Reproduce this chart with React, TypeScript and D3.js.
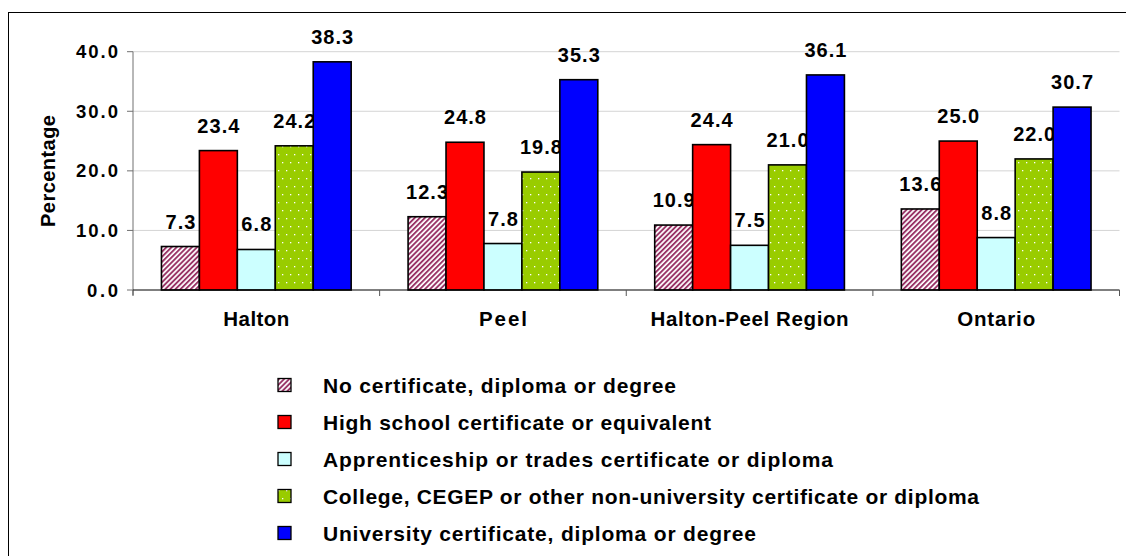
import React from "react";
import * as d3 from "d3";

const categories = ["Halton", "Peel", "Halton-Peel Region", "Ontario"];
const seriesNames = [
  "No certificate, diploma or degree",
  "High school certificate or equivalent",
  "Apprenticeship or trades certificate or diploma",
  "College, CEGEP or other non-university certificate or diploma",
  "University certificate, diploma or degree",
];
const noCertificate = [7.3, 12.3, 10.9, 13.6];
const highSchool = [23.4, 24.8, 24.4, 25.0];
const apprenticeship = [6.8, 7.8, 7.5, 8.8];
const college = [24.2, 19.8, 21.0, 22.0];
const university = [38.3, 35.3, 36.1, 30.7];
const yTicks = [0, 10, 20, 30, 40];

const seriesValues = [noCertificate, highSchool, apprenticeship, college, university];
const fills = ["url(#hatch)", "#FF0000", "#CCFFFF", "url(#dots)", "#0000FF"];
const legendWidths = [353, 388, 510, 656, 433];
const catLabelWidths = [66, 48, 198, 78];

const FONT = "'Liberation Sans', Arial, sans-serif";

export default function App() {
  const left = 133;
  const right = 1119.5;
  const y = d3.scaleLinear().domain([0, 40]).range([290, 51.7]);
  const x0 = d3.scaleBand<string>().domain(categories).range([left, right]).padding(0);
  const bw = x0.bandwidth();
  const barW = bw / 6.5;
  const gap = bw - barW * 5;
  const x1 = d3
    .scaleBand<number>()
    .domain(d3.range(5))
    .range([gap / 2, bw - gap / 2])
    .padding(0);

  const legendY = [385, 422, 459, 496, 533];
  const fmt = d3.format(".1f");

  return (
    <svg
      width={1126}
      height={556}
      style={{ position: "absolute", left: 0, top: 0, background: "#fff" }}
      fontFamily={FONT}
      fontWeight="bold"
    >
      <defs>
        <pattern id="hatch" width={3.6} height={3.6} patternUnits="userSpaceOnUse" patternTransform="rotate(45)">
          <rect width={3.6} height={3.6} fill="#ffffff" />
          <rect width={1.9} height={3.6} fill="#993366" />
        </pattern>
        <pattern id="dots" width={8} height={16} patternUnits="userSpaceOnUse">
          <rect width={8} height={16} fill="#99CC00" />
          <rect x={2} y={2} width={1.3} height={1.3} fill="#ffffff" />
          <rect x={6} y={10} width={1.3} height={1.3} fill="#ffffff" />
        </pattern>
      </defs>
      <rect x={0} y={0} width={1126} height={556} fill="#fff" />
      {/* outer frame */}
      <rect x={8.5} y={12.5} width={1300} height={700} fill="none" stroke="#000" strokeWidth={1} />

      {/* gridlines */}
      {yTicks
        .filter((t) => t > 0)
        .map((t) => (
          <line key={"g" + t} x1={left} x2={right} y1={y(t)} y2={y(t)} stroke="#d4d4d4" strokeWidth={1} />
        ))}

      {/* y axis */}
      <line x1={left} x2={left} y1={y(40)} y2={y(0) + 5} stroke="#707070" strokeWidth={1} />
      {yTicks.map((t) => {
        const s = fmt(t);
        return (
          <g key={"t" + t}>
            <line x1={left - 6} x2={left} y1={y(t)} y2={y(t)} stroke="#707070" strokeWidth={1} />
            <text
              x={118}
              y={y(t) + 6.5}
              textAnchor="end"
              fontSize={18.5}
              fill="#000"
              textLength={s.length === 3 ? 31 : 42}
              lengthAdjust="spacing"
            >
              {s}
            </text>
          </g>
        );
      })}

      {/* bars and labels, per series */}
      {seriesValues.map((vals, si) => (
        <g key={"s" + si}>
          {vals.map((v, ci) => {
            const bx = (x0(categories[ci]) as number) + (x1(si) as number);
            return (
              <rect
                key={"b" + ci}
                x={bx}
                y={y(v)}
                width={x1.bandwidth()}
                height={y(0) - y(v)}
                fill={fills[si]}
                stroke="#000"
                strokeWidth={1.6}
              />
            );
          })}
          {vals.map((v, ci) => {
            const cx = (x0(categories[ci]) as number) + (x1(si) as number) + x1.bandwidth() / 2;
            const s = fmt(v);
            return (
              <text
                key={"l" + ci}
                x={cx}
                y={y(v) - 18}
                textAnchor="middle"
                fontSize={20}
                fill="#000"
                textLength={s.length === 3 ? 30 : 42}
                lengthAdjust="spacing"
              >
                {s}
              </text>
            );
          })}
        </g>
      ))}

      {/* x axis */}
      <line x1={left} x2={right} y1={y(0)} y2={y(0)} stroke="#000" strokeWidth={1.2} />
      {d3.range(categories.length + 1).map((i) => {
        const xx = left + i * bw;
        return <line key={"xt" + i} x1={xx} x2={xx} y1={y(0)} y2={y(0) + 6} stroke="#555" strokeWidth={1} />;
      })}
      {categories.map((c, i) => (
        <text
          key={"c" + i}
          x={(x0(c) as number) + bw / 2}
          y={326}
          textAnchor="middle"
          fontSize={20.5}
          fill="#000"
          textLength={catLabelWidths[i]}
          lengthAdjust="spacing"
        >
          {c}
        </text>
      ))}

      {/* y title */}
      <text
        transform="translate(55,171) rotate(-90)"
        textAnchor="middle"
        fontSize={20}
        fill="#000"
        textLength={112}
        lengthAdjust="spacing"
      >
        Percentage
      </text>

      {/* legend */}
      {seriesNames.map((name, i) => (
        <g key={"lg" + i}>
          <rect
            x={278}
            y={legendY[i] - 6.5}
            width={13}
            height={13}
            fill={fills[i]}
            stroke="#000"
            strokeWidth={1.3}
          />
          <text
            x={323}
            y={legendY[i] + 7.5}
            fontSize={21}
            fill="#000"
            textLength={legendWidths[i]}
            lengthAdjust="spacing"
          >
            {name}
          </text>
        </g>
      ))}
    </svg>
  );
}
